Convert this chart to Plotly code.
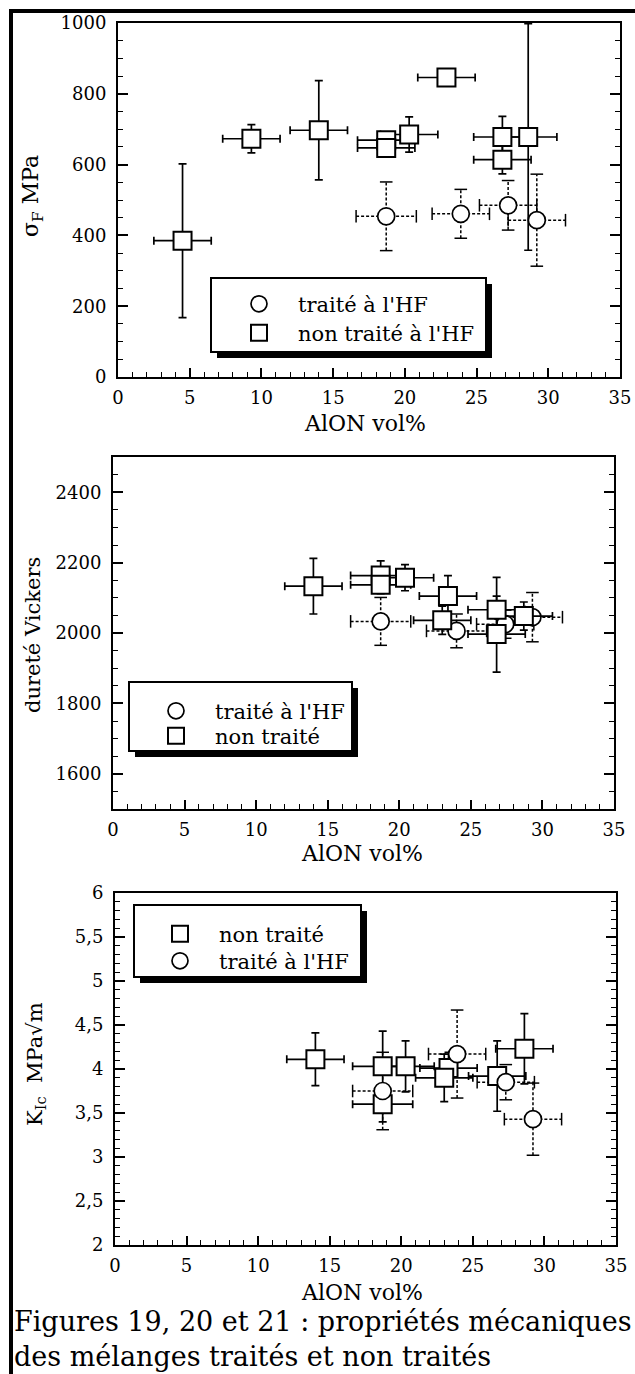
import plotly.graph_objects as go

W, H = 635, 1374
FONT = "DejaVu Serif, Liberation Serif, serif"

# ---------------- data ----------------
x_ticks = [0, 5, 10, 15, 20, 25, 30, 35]

# Figure 19 : sigma_F (MPa)
p1_sq_x = [4.5, 9.3, 14.0, 18.7, 18.7, 20.3, 22.9, 26.8, 26.8, 28.6]
p1_sq_y = [385, 673, 697, 669, 647, 685, 846, 678, 614, 678]
p1_sq_xerr = [2.0, 2.0, 2.0, 2.0, 2.0, 2.0, 2.0, 2.0, 2.0, 2.0]
p1_sq_yerr = [217, 40, 140, 22, 22, 50, 8, 58, 40, 320]
p1_ci_x = [18.7, 23.9, 27.2, 29.2]
p1_ci_y = [454, 461, 485, 443]
p1_ci_xerr = [2.1, 2.0, 2.0, 2.0]
p1_ci_yerr = [97, 69, 70, 130]

# Figure 20 : durete Vickers
p2_sq_x = [14.0, 18.7, 18.7, 20.4, 23.4, 23.0, 26.8, 26.8, 28.7]
p2_sq_y = [2133, 2163, 2137, 2157, 2105, 2036, 2066, 1997, 2048]
p2_sq_xerr = [2.0, 2.1, 2.1, 2.0, 2.0, 2.0, 2.0, 2.0, 2.0]
p2_sq_yerr = [79, 42, 25, 37, 58, 40, 92, 108, 40]
p2_ci_x = [18.7, 24.0, 27.4, 29.3]
p2_ci_y = [2033, 2006, 2025, 2045]
p2_ci_xerr = [2.1, 2.1, 2.0, 2.1]
p2_ci_yerr = [68, 48, 40, 70]

# Figure 21 : K_Ic (MPa sqrt m)
p3_sq_x = [14.0, 18.7, 18.7, 20.3, 23.3, 23.0, 26.7, 28.6]
p3_sq_y = [4.11, 4.03, 3.60, 4.03, 4.01, 3.90, 3.92, 4.23]
p3_sq_xerr = [2.0, 2.1, 2.1, 2.0, 2.0, 2.0, 2.0, 2.0]
p3_sq_yerr = [0.30, 0.40, 0.20, 0.29, 0.18, 0.27, 0.40, 0.40]
p3_ci_x = [18.7, 23.9, 27.3, 29.2]
p3_ci_y = [3.75, 4.17, 3.85, 3.43]
p3_ci_xerr = [2.1, 2.0, 2.0, 2.0]
p3_ci_yerr = [0.44, 0.50, 0.20, 0.41]

# ---------------- helpers ----------------
def px(x):
    return x / W


def py(y):
    return 1 - y / H


fig = go.Figure()


def add_panel(n, sx, sy, sxe, sye, cx, cy, cxe, cye, sq_name, ci_name, sq_leg, ci_leg, square_first):
    xa = "x" if n == 1 else f"x{n}"
    ya = "y" if n == 1 else f"y{n}"
    # dotted error bars for the treated samples
    ex, ey = [], []
    for x, y, xe, ye in zip(cx, cy, cxe, cye):
        ex += [x - xe, x + xe, None, x, x, None]
        ey += [y, y, None, y - ye, y + ye, None]
    fig.add_trace(go.Scatter(x=ex, y=ey, mode="lines", xaxis=xa, yaxis=ya,
                             line=dict(color="black", width=1.5, dash="3px,2px"),
                             showlegend=False, hoverinfo="skip"))
    capx = [x - xe for x, xe in zip(cx, cxe)] + [x + xe for x, xe in zip(cx, cxe)]
    capy = list(cy) + list(cy)
    fig.add_trace(go.Scatter(x=capx, y=capy, mode="markers", xaxis=xa, yaxis=ya,
                             marker=dict(symbol="line-ns", size=9, line=dict(color="black", width=1.5)),
                             showlegend=False, hoverinfo="skip"))
    capx2 = list(cx) + list(cx)
    capy2 = [y - ye for y, ye in zip(cy, cye)] + [y + ye for y, ye in zip(cy, cye)]
    fig.add_trace(go.Scatter(x=capx2, y=capy2, mode="markers", xaxis=xa, yaxis=ya,
                             marker=dict(symbol="line-ew", size=9, line=dict(color="black", width=1.5)),
                             showlegend=False, hoverinfo="skip"))

    sq = go.Scatter(x=sx, y=sy, mode="markers", name=sq_name, xaxis=xa, yaxis=ya, legend=sq_leg,
                    marker=dict(symbol="square", size=18, color="white",
                                line=dict(color="black", width=2)),
                    error_x=dict(type="data", array=sxe, color="black", thickness=1.7, width=4),
                    error_y=dict(type="data", array=sye, color="black", thickness=1.7, width=4))
    ci = go.Scatter(x=cx, y=cy, mode="markers", name=ci_name, xaxis=xa, yaxis=ya, legend=ci_leg,
                    marker=dict(symbol="circle", size=17, color="white",
                                line=dict(color="black", width=1.7)))
    if square_first:
        fig.add_trace(sq)
        fig.add_trace(ci)
    else:
        fig.add_trace(ci)
        fig.add_trace(sq)


add_panel(1, p1_sq_x, p1_sq_y, p1_sq_xerr, p1_sq_yerr, p1_ci_x, p1_ci_y, p1_ci_xerr, p1_ci_yerr,
          "non traité à l'HF", "traité à l'HF", "legend2", "legend", False)
add_panel(2, p2_sq_x, p2_sq_y, p2_sq_xerr, p2_sq_yerr, p2_ci_x, p2_ci_y, p2_ci_xerr, p2_ci_yerr,
          "non traité", "traité à l'HF", "legend4", "legend3", False)
add_panel(3, p3_sq_x, p3_sq_y, p3_sq_xerr, p3_sq_yerr, p3_ci_x, p3_ci_y, p3_ci_xerr, p3_ci_yerr,
          "non traité", "traité à l'HF", "legend5", "legend6", True)

tickfont = dict(family=FONT, size=18, color="black")


def xcfg(l, r, anchor):
    return dict(domain=[px(l), px(r)], anchor=anchor, range=[0, 35], tickvals=x_ticks,
                ticks="inside", ticklen=9, tickwidth=1.5, tickcolor="black",
                minor=dict(dtick=1, ticks="inside", ticklen=5, tickwidth=1.3, tickcolor="black"),
                showline=True, linecolor="black", linewidth=2, mirror=True,
                showgrid=False, zeroline=False, tickfont=tickfont,
                ticklabelstandoff=3, automargin=False, fixedrange=True)


def ycfg(top, bot, anchor, rng, dtick, tick0, minor):
    return dict(domain=[py(bot), py(top)], anchor=anchor, range=rng, dtick=dtick, tick0=tick0,
                ticks="inside", ticklen=10, tickwidth=1.5, tickcolor="black",
                minor=dict(dtick=minor, ticks="inside", ticklen=5, tickwidth=1.3, tickcolor="black"),
                showline=True, linecolor="black", linewidth=2, mirror="ticks",
                showgrid=False, zeroline=False, tickfont=tickfont,
                ticklabelstandoff=6, automargin=False, fixedrange=True)


ann = []


def title(text, x, y, size=22, angle=0, xanchor="center", align="center"):
    ann.append(dict(text=text, x=px(x), y=py(y), xref="paper", yref="paper", showarrow=False,
                    xanchor=xanchor, yanchor="middle", textangle=angle, align=align,
                    font=dict(family=FONT, size=size, color="black")))


title("AlON vol%", 365, 423)
title("AlON vol%", 362, 853)
title("AlON vol%", 362, 1292)
title("σ<sub>F</sub> MPa", 33, 196, size=22, angle=-90)
title("dureté Vickers", 33, 635, size=21, angle=-90)
title("K<sub>Ic</sub>  MPa√m", 36, 1064, size=21, angle=-90)
title("Figures 19, 20 et 21 : propriétés mécaniques<br>des mélanges traités et non traités",
      12, 1339, size=27, xanchor="left", align="left")

shapes = [
    dict(type="line", xref="paper", yref="paper", x0=px(11), x1=px(11), y0=py(9), y1=py(1374),
         line=dict(color="black", width=4)),
    dict(type="line", xref="paper", yref="paper", x0=px(9), x1=px(635), y0=py(11), y1=py(11),
         line=dict(color="black", width=4)),
]


def legbox(l, t, r, b, s=6):
    shapes.append(dict(type="rect", xref="paper", yref="paper", x0=px(l + s), x1=px(r + s),
                       y0=py(b + s), y1=py(t + s), fillcolor="black", line=dict(width=0),
                       layer="above"))
    shapes.append(dict(type="rect", xref="paper", yref="paper", x0=px(l), x1=px(r),
                       y0=py(b), y1=py(t), fillcolor="white",
                       line=dict(color="black", width=2), layer="above"))


legbox(211, 278, 486, 352)
legbox(129, 682, 352, 751)
legbox(134, 905, 361, 977)

LEG_SIZE = 21


def legcfg(sym_x, center_y, size=LEG_SIZE):
    return dict(x=px(sym_x - 39), y=py(center_y - (0.65 * size + 5.7)), xref="paper", yref="paper",
                xanchor="left", yanchor="top",
                bgcolor="rgba(0,0,0,0)", borderwidth=0, itemwidth=68, itemclick=False,
                font=dict(family=FONT, size=size, color="black"))


fig.update_layout(
    width=W, height=H, margin=dict(l=0, r=0, t=0, b=0),
    paper_bgcolor="white", plot_bgcolor="rgba(0,0,0,0)",
    separators=", ",
    showlegend=True,
    xaxis=xcfg(118, 620, "y"),
    yaxis=ycfg(23, 377, "x", [0, 1000], 200, 0, 50),
    xaxis2=xcfg(113, 614, "y2"),
    yaxis2=ycfg(457, 809, "x2", [1500, 2500], 200, 1600, 50),
    xaxis3=xcfg(115, 616, "y3"),
    yaxis3=ycfg(893, 1245, "x3", [2, 6], 0.5, 2, 0.1),
    legend=legcfg(259, 303),
    legend2=legcfg(259, 332),
    legend3=legcfg(176, 710),
    legend4=legcfg(176, 735),
    legend5=legcfg(180, 933),
    legend6=legcfg(180, 960),
    annotations=ann,
    shapes=shapes,
)

fig.write_html("out.html", config={"displayModeBar": False},
               post_script="document.body.style.margin='0';")
